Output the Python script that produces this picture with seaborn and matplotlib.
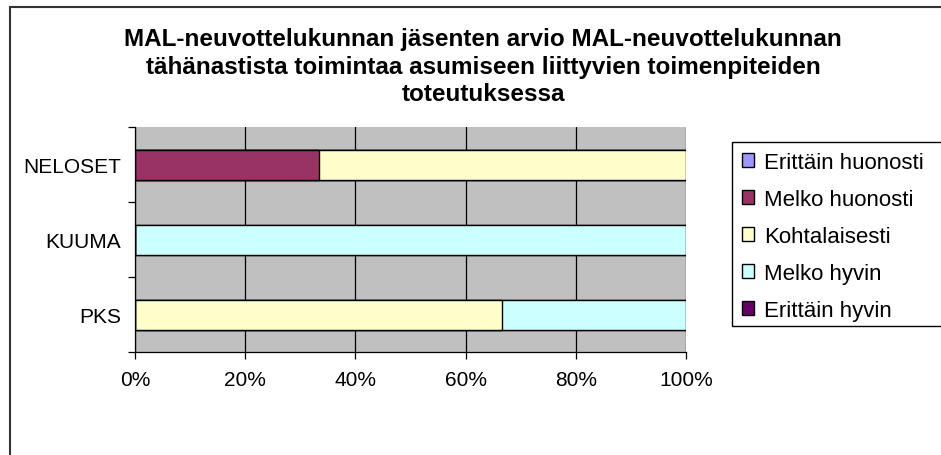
import seaborn as sns
import matplotlib.pyplot as plt
import pandas as pd
from matplotlib.patches import Rectangle

# data (shares per group)
groups = ['NELOSET', 'KUUMA', 'PKS']
series = ['Erittäin huonosti', 'Melko huonosti', 'Kohtalaisesti', 'Melko hyvin', 'Erittäin hyvin']
erittain_huonosti = [0.0, 0.0, 0.0]
melko_huonosti = [1/3, 0.0, 0.0]
kohtalaisesti = [2/3, 0.0, 2/3]
melko_hyvin = [0.0, 1.0, 1/3]
erittain_hyvin = [0.0, 0.0, 0.0]
colors = ['#9999FF', '#993366', '#FFFFCC', '#CCFFFF', '#660066']
x_ticks = [0, 0.2, 0.4, 0.6, 0.8, 1.0]
x_labels = ['0%', '20%', '40%', '60%', '80%', '100%']
title = ('MAL-neuvottelukunnan jäsenten arvio MAL-neuvottelukunnan\n'
         'tähänastista toimintaa asumiseen liittyvien toimenpiteiden\n'
         'toteutuksessa')

values = pd.DataFrame({'group': groups,
                       series[0]: erittain_huonosti, series[1]: melko_huonosti,
                       series[2]: kohtalaisesti, series[3]: melko_hyvin,
                       series[4]: erittain_hyvin})
cum = values.set_index('group')[series].cumsum(axis=1).reset_index()
long = cum.melt(id_vars='group', var_name='series', value_name='cum')

sns.set_style('white')
plt.rcParams['font.family'] = ['Liberation Sans', 'DejaVu Sans']
plt.rcParams['text.color'] = 'black'
plt.rcParams['xtick.color'] = 'black'
plt.rcParams['ytick.color'] = 'black'
plt.rcParams['axes.labelcolor'] = 'black'

fig = plt.figure(figsize=(9.41, 4.56), dpi=100)
ax = fig.add_axes([135/941, 1 - 353/456, (686-135)/941, (353-128)/456])
ax.set_facecolor('#C0C0C0')

# stacked bars: draw cumulative totals from the right-most series back
for name, col in reversed(list(zip(series, colors))):
    sub = long[long['series'] == name]
    sns.barplot(data=sub, x='cum', y='group', order=groups, color=col,
                width=0.4, edgecolor='black', linewidth=1.0, saturation=1,
                ax=ax, zorder=3)

ax.set_xlim(0, 1)
ax.set_ylim(2.5, -0.5)
ax.set_xticks(x_ticks)
ax.set_xticklabels(x_labels, fontsize=15)
ax.xaxis.grid(True, color='black', linewidth=0.9)
ax.set_axisbelow(True)
ax.set_yticks([-0.5, 0.5, 1.5, 2.5])
ax.set_yticklabels([])
ax.set_yticks([0, 1, 2], minor=True)
ax.set_yticklabels(groups, minor=True, fontsize=15)
ax.tick_params(axis='y', which='major', length=5, width=0.9, direction='out', left=True)
ax.tick_params(axis='y', which='minor', length=0, pad=10)
ax.tick_params(axis='x', length=5, width=0.9, direction='out', bottom=True, pad=8)
ax.set_xlabel('')
ax.set_ylabel('')
for s in ['top', 'right']:
    ax.spines[s].set_visible(False)
for s in ['left', 'bottom']:
    ax.spines[s].set_color('black')
    ax.spines[s].set_linewidth(0.9)

fig.text(483/941, 1 - 28/456, title, ha='center', va='top', fontsize=17.5,
         fontweight='bold', linespacing=1.26, color='black')

handles = [Rectangle((0, 0), 1, 1, facecolor=c, edgecolor='black', linewidth=1.0)
           for c in colors]
leg = fig.legend(handles, series, loc='upper left',
                 bbox_to_anchor=(732/941, 1 - 143/456), fontsize=16,
                 frameon=False, labelcolor='black',
                 handlelength=0.55, handleheight=0.55, handletextpad=0.45,
                 labelspacing=0.72, borderpad=0.45, borderaxespad=0)
# legend box runs past the right edge of the chart
fig.patches.append(Rectangle((732/941, 1 - 327/456), 0.5, (327-143)/456,
                             transform=fig.transFigure, fill=False,
                             edgecolor='black', linewidth=1.0))

# chart border, running off the right and bottom edges
fig.patches.append(Rectangle((10/941, -0.1), 1.1, 1.1 - 8/456,
                             transform=fig.transFigure, fill=False,
                             edgecolor='#333333', linewidth=1.5))

plt.savefig('out.png', dpi=100)
